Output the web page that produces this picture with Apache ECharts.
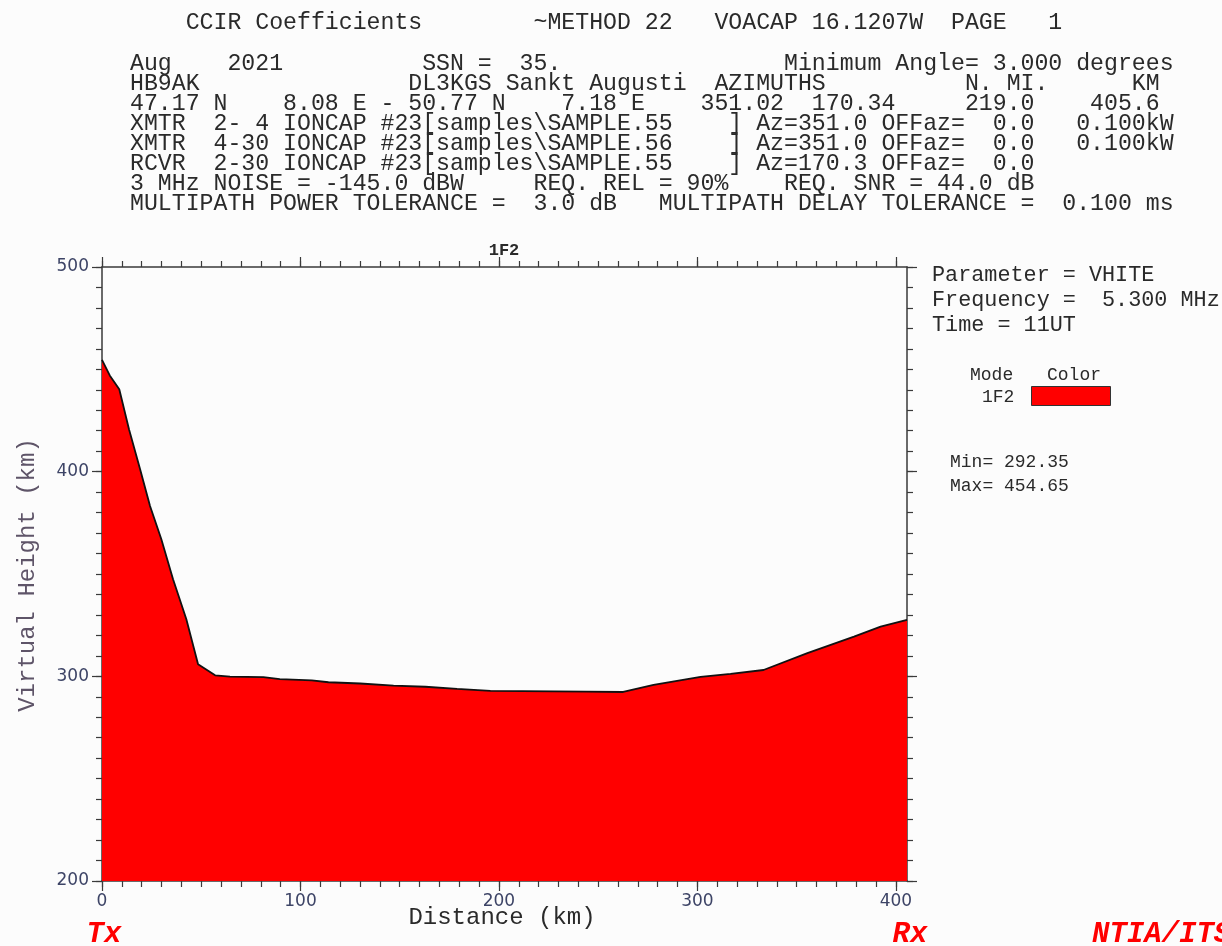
<!DOCTYPE html>
<html>
<head>
<meta charset="utf-8">
<script src="https://cdn.jsdelivr.net/npm/echarts@6/dist/echarts.min.js"></script>
<style>
  html, body { margin: 0; padding: 0; background: #fcfcfc; }
  #chart { width: 1222px; height: 946px; }
</style>
</head>
<body>
<div id="chart"></div>
<script>
// Virtual height of the 1F2 mode along the path (distance from Tx in km)
const DIST_KM = [0, 3.9, 8.7, 13.6, 19.2, 24.2, 29.9, 35.8, 42.5, 48.4, 57.0, 64.5,
  81.3, 89.6, 105.7, 114.1, 130.1, 146.9, 162.9, 178.9, 195.7, 244.0, 262.6,
  277.9, 301.6, 316.7, 333.3, 355.4, 378.9, 392.3, 405.6];
const VHEIGHT_KM = [454.65, 447.0, 440.3, 420.7, 401.2, 383.2, 367.0, 347.4, 327.9, 305.9, 300.5, 299.9,
  299.6, 298.6, 298.0, 297.1, 296.5, 295.5, 294.9, 293.9, 292.9, 292.5, 292.35,
  295.8, 299.7, 301.2, 303.1, 311.3, 319.4, 324.3, 327.6];

const PATH_KM = 405.6;
const X_TICK_LABELS = [0, 100, 200, 300, 400];
const Y_TICK_LABELS = [200, 300, 400, 500];

const HEADER_LINES = [
  '    CCIR Coefficients        ~METHOD 22   VOACAP 16.1207W  PAGE   1',
  'Aug    2021          SSN =  35.                Minimum Angle= 3.000 degrees',
  'HB9AK               DL3KGS Sankt Augusti  AZIMUTHS          N. MI.      KM',
  '47.17 N    8.08 E - 50.77 N    7.18 E    351.02  170.34     219.0    405.6',
  'XMTR  2- 4 IONCAP #23[samples\\SAMPLE.55    ] Az=351.0 OFFaz=  0.0   0.100kW',
  'XMTR  4-30 IONCAP #23[samples\\SAMPLE.56    ] Az=351.0 OFFaz=  0.0   0.100kW',
  'RCVR  2-30 IONCAP #23[samples\\SAMPLE.55    ] Az=170.3 OFFaz=  0.0',
  '3 MHz NOISE = -145.0 dBW     REQ. REL = 90%    REQ. SNR = 44.0 dB',
  'MULTIPATH POWER TOLERANCE =  3.0 dB   MULTIPATH DELAY TOLERANCE =  0.100 ms'
];
const PANEL_LINES = ['Parameter = VHITE', 'Frequency =  5.300 MHz', 'Time = 11UT'];
const MODE_NAME = '1F2';
const MODE_COLOR = '#ff0000';

const MONO = '"Liberation Mono", "Courier New", monospace';
const AXIS_COLOR = '#3a3a3a';
const TEXT_COLOR = '#2a2a2a';

const minorX = [];
for (let v = 0; v <= PATH_KM; v += 10) minorX.push(v);
const minorY = [];
for (let v = Y_TICK_LABELS[0]; v <= Y_TICK_LABELS[Y_TICK_LABELS.length - 1]; v += 10) minorY.push(v);

const chart = echarts.init(document.getElementById('chart'), null, { renderer: 'canvas' });

function txt(text, x, y, size, opts) {
  opts = opts || {};
  return {
    type: 'text', x: x, y: y, rotation: opts.rotation || 0, silent: true,
    style: {
      text: text, fontFamily: opts.family || MONO, fontSize: size,
      fontWeight: opts.weight || 'normal', fontStyle: opts.style || 'normal',
      fill: opts.color || TEXT_COLOR, align: opts.align || 'left', verticalAlign: 'middle'
    }
  };
}

const graphics = [];
graphics.push(txt(HEADER_LINES[0], 130, 23, 23.2));
for (let i = 1; i < HEADER_LINES.length; i++) {
  graphics.push(txt(HEADER_LINES[i], 130, 64 + (i - 1) * 20, 23.2));
}
PANEL_LINES.forEach((t, i) => graphics.push(txt(t, 932, 275 + i * 25, 21.8)));
graphics.push(txt('Mode', 970, 375, 18));
graphics.push(txt('Color', 1047, 375, 18));
graphics.push(txt(MODE_NAME, 982, 397, 18));
graphics.push({
  type: 'rect', silent: true,
  shape: { x: 1031.5, y: 386.5, width: 79, height: 19 },
  style: { fill: MODE_COLOR, stroke: '#333', lineWidth: 1 }
});
graphics.push(txt('Min= ' + Math.min.apply(null, VHEIGHT_KM).toFixed(2), 950, 462, 18));
graphics.push(txt('Max= ' + Math.max.apply(null, VHEIGHT_KM).toFixed(2), 950, 486, 18));
graphics.push(txt(MODE_NAME, 504, 251, 17, { weight: 'bold', align: 'center' }));
graphics.push(txt('Distance (km)', 502, 918, 24, { align: 'center' }));
graphics.push(txt('Virtual Height (km)', 28, 575, 24, { align: 'center', rotation: Math.PI / 2, color: '#5e5468' }));
graphics.push(txt('Tx', 104, 935, 29, { weight: 'bold', style: 'italic', color: '#ff0000', align: 'center' }));
graphics.push(txt('Rx', 910, 935, 29, { weight: 'bold', style: 'italic', color: '#ff0000', align: 'center' }));
graphics.push(txt('NTIA/ITS', 1092, 935, 29, { weight: 'bold', style: 'italic', color: '#ff0000' }));

const lineStyleAxis = { color: AXIS_COLOR, width: 1.5 };
const tickStyle = { color: AXIS_COLOR, width: 1.2 };
const labelStyle = { color: '#3d4466', fontFamily: '"DejaVu Sans", sans-serif', fontSize: 17 };

// Each side of the frame uses two overlapping axes: long ticks every 100 km
// (with labels on bottom/left) and short ticks every 10 km.
function xAxisDef(position, major, labels) {
  return {
    type: 'value', position: position, min: 0, max: PATH_KM, offset: 0,
    axisLine: { show: major, onZero: false, lineStyle: lineStyleAxis },
    axisTick: { show: true, length: major ? 10 : 6, lineStyle: tickStyle,
      customValues: major ? X_TICK_LABELS : minorX },
    axisLabel: labels ? Object.assign({ show: true, customValues: X_TICK_LABELS, margin: 12 }, labelStyle)
                      : { show: false },
    splitLine: { show: false }
  };
}
function yAxisDef(position, major, labels) {
  return {
    type: 'value', position: position, min: 200, max: 500, offset: 0,
    axisLine: { show: major, onZero: false, lineStyle: lineStyleAxis },
    axisTick: { show: true, length: major ? 10 : 6, lineStyle: tickStyle,
      customValues: major ? Y_TICK_LABELS : minorY },
    axisLabel: labels ? Object.assign({ show: true, customValues: Y_TICK_LABELS, margin: 13 }, labelStyle)
                      : { show: false },
    splitLine: { show: false }
  };
}

chart.setOption({
  animation: false,
  backgroundColor: '#fcfcfc',
  grid: { left: 102, right: 315, top: 267, bottom: 65, containLabel: false },
  xAxis: [
    xAxisDef('bottom', true, true),
    xAxisDef('bottom', false, false),
    xAxisDef('top', true, false),
    xAxisDef('top', false, false)
  ],
  yAxis: [
    yAxisDef('left', true, true),
    yAxisDef('left', false, false),
    yAxisDef('right', true, false),
    yAxisDef('right', false, false)
  ],
  series: [{
    type: 'line', xAxisIndex: 0, yAxisIndex: 0,
    data: DIST_KM.map((d, i) => [d, VHEIGHT_KM[i]]),
    symbol: 'none', silent: true,
    lineStyle: { color: '#111', width: 1.8 },
    areaStyle: { color: MODE_COLOR, opacity: 1, origin: 'start' }
  }],
  graphic: graphics
});
</script>
</body>
</html>
